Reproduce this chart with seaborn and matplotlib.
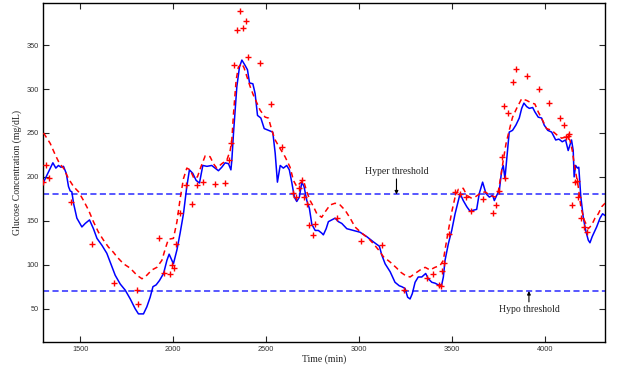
import matplotlib
matplotlib.use('Agg')

import pandas as pd
import matplotlib.pyplot as plt
import seaborn as sns

sns.set_style("ticks")
plt.rcParams['font.family'] = ['Liberation Serif', 'DejaVu Serif']

# ── data: (time in min, glucose in mg/dL) ──
cgm_points = [
    (1303, 194), (1353, 216), (1369, 210), (1383, 213), (1396, 211), (1410, 212), (1425, 204), (1437, 189),
    (1446, 184), (1455, 183), (1464, 170), (1482, 153), (1509, 143), (1527, 147), (1550, 151), (1571, 141),
    (1590, 130), (1617, 122), (1643, 113), (1661, 103), (1688, 88), (1715, 78), (1742, 71), (1769, 61),
    (1795, 50), (1813, 44), (1840, 44), (1858, 52), (1876, 63), (1891, 75), (1908, 77), (1926, 82),
    (1948, 90), (1966, 105), (1978, 112), (1993, 105), (2001, 101), (2020, 117), (2037, 136), (2055, 158),
    (2073, 189), (2087, 208), (2105, 204), (2123, 196), (2141, 193), (2159, 213), (2181, 212), (2207, 213),
    (2225, 210), (2243, 207), (2261, 211), (2279, 216), (2297, 215), (2310, 208), (2315, 219), (2324, 250),
    (2342, 303), (2356, 325), (2369, 333), (2386, 327), (2399, 322), (2410, 307), (2428, 306), (2440, 295),
    (2453, 270), (2471, 267), (2489, 255), (2512, 253), (2535, 251), (2548, 227), (2560, 194), (2575, 213),
    (2592, 210), (2610, 213), (2624, 208), (2637, 194), (2651, 177), (2664, 172), (2678, 177), (2691, 194),
    (2703, 189), (2718, 173), (2732, 164), (2745, 146), (2763, 139), (2780, 139), (2798, 136), (2807, 134),
    (2822, 141), (2834, 149), (2852, 151), (2870, 153), (2888, 149), (2906, 147), (2933, 141), (2968, 139),
    (3004, 137), (3040, 132), (3076, 126), (3108, 121), (3121, 111), (3139, 101), (3166, 92), (3192, 80),
    (3215, 76), (3228, 75), (3246, 73), (3260, 63), (3273, 61), (3285, 67), (3300, 80), (3317, 86),
    (3336, 86), (3357, 90), (3371, 84), (3390, 80), (3407, 79), (3425, 77), (3443, 77), (3452, 86),
    (3461, 105), (3479, 124), (3497, 139), (3515, 158), (3533, 173), (3542, 181), (3559, 173), (3578, 166),
    (3595, 161), (3613, 162), (3631, 163), (3645, 181), (3663, 194), (3681, 181), (3699, 177), (3717, 179),
    (3726, 173), (3739, 179), (3753, 185), (3766, 208), (3774, 213), (3783, 198), (3792, 219), (3806, 251),
    (3824, 253), (3842, 259), (3860, 267), (3873, 278), (3885, 284), (3900, 280), (3914, 278), (3932, 279),
    (3944, 274), (3962, 268), (3980, 267), (3994, 259), (4013, 253), (4034, 251), (4056, 242), (4073, 243),
    (4091, 240), (4109, 242), (4123, 230), (4141, 242), (4150, 230), (4155, 200), (4163, 213), (4173, 210),
    (4180, 211), (4191, 177), (4204, 154), (4217, 139), (4231, 128), (4240, 125), (4252, 132), (4276, 143),
    (4294, 153), (4308, 158), (4321, 156),
]

estimate_points = [
    (1303, 250), (1339, 238), (1366, 225), (1389, 215), (1410, 210), (1437, 198), (1464, 189), (1491, 183),
    (1518, 173), (1545, 162), (1571, 149), (1598, 137), (1625, 128), (1652, 120), (1679, 114), (1697, 109),
    (1733, 101), (1769, 96), (1805, 88), (1832, 84), (1858, 88), (1885, 94), (1912, 97), (1939, 105),
    (1957, 118), (1974, 129), (2001, 130), (2020, 149), (2037, 175), (2055, 198), (2073, 210), (2091, 208),
    (2112, 198), (2130, 200), (2148, 211), (2172, 224), (2198, 223), (2216, 215), (2234, 210), (2261, 215),
    (2288, 219), (2306, 230), (2315, 242), (2324, 272), (2338, 310), (2350, 325), (2369, 329), (2381, 324),
    (2396, 314), (2413, 303), (2431, 293), (2467, 276), (2494, 268), (2512, 267), (2530, 253), (2548, 242),
    (2575, 232), (2601, 223), (2628, 211), (2646, 196), (2664, 189), (2682, 193), (2700, 196), (2718, 183),
    (2736, 173), (2754, 166), (2772, 158), (2798, 154), (2816, 160), (2843, 168), (2870, 170), (2897, 168),
    (2924, 162), (2951, 153), (2977, 143), (3013, 136), (3049, 130), (3076, 124), (3103, 117), (3130, 109),
    (3166, 103), (3202, 96), (3219, 92), (3246, 88), (3273, 86), (3300, 90), (3327, 94), (3354, 97),
    (3380, 94), (3407, 97), (3434, 99), (3452, 105), (3461, 117), (3479, 139), (3497, 160), (3515, 177),
    (3533, 186), (3559, 187), (3578, 179), (3601, 176), (3622, 177), (3649, 181), (3676, 183), (3703, 179),
    (3730, 177), (3747, 183), (3762, 202), (3774, 219), (3789, 238), (3806, 253), (3824, 268), (3846, 278),
    (3873, 289), (3900, 287), (3927, 284), (3944, 283), (3962, 274), (3984, 265), (4007, 255), (4034, 253),
    (4061, 248), (4088, 244), (4114, 246), (4132, 242), (4145, 230), (4155, 215), (4168, 200), (4177, 189),
    (4191, 166), (4209, 151), (4231, 141), (4249, 145), (4267, 153), (4285, 158), (4303, 166), (4321, 170),
]

reference_points = [
    (1300, 194), (1316, 214), (1330, 199), (1452, 171), (1566, 124), (1683, 79), (1805, 71), (1808, 55),
    (1924, 130), (1953, 91), (1985, 89), (1994, 100), (2003, 96), (2014, 124), (2039, 159), (2069, 191),
    (2103, 169), (2130, 191), (2159, 194), (2222, 192), (2279, 193), (2300, 219), (2311, 239), (2329, 327),
    (2345, 367), (2361, 389), (2374, 370), (2392, 378), (2404, 337), (2465, 330), (2525, 283), (2584, 234),
    (2646, 182), (2659, 177), (2676, 187), (2691, 196), (2703, 177), (2718, 169), (2732, 145), (2749, 134),
    (2763, 146), (2882, 153), (3010, 127), (3121, 122), (3241, 71), (3363, 85), (3395, 89), (3427, 77),
    (3437, 76), (3447, 93), (3456, 102), (3484, 135), (3515, 183), (3542, 181), (3574, 177), (3601, 161),
    (3663, 175), (3720, 159), (3735, 168), (3749, 184), (3766, 223), (3783, 199), (3780, 281), (3798, 273),
    (3828, 308), (3842, 323), (3903, 315), (3968, 300), (4021, 284), (4079, 267), (4098, 259), (4109, 245),
    (4120, 246), (4128, 249), (4141, 168), (4159, 194), (4168, 195), (4177, 177), (4191, 153), (4209, 143),
    (4222, 137),
]

hyper_threshold = 180
hypo_threshold = 70
x_ticks = [1500, 2000, 2500, 3000, 3500, 4000]
y_ticks = [50, 100, 150, 200, 250, 300, 350]

cgm = pd.DataFrame(cgm_points, columns=["time", "glucose"])
est = pd.DataFrame(estimate_points, columns=["time", "glucose"])
ref = pd.DataFrame(reference_points, columns=["time", "glucose"])

# ── figure ──
fig = plt.figure(figsize=(6.18, 3.69), dpi=100)
ax = fig.add_axes([0.0696, 0.0732, 0.9094, 0.9187])

ax.axhline(hyper_threshold, color='#2a2aff', lw=1.1, ls=(0, (4, 2.2)), zorder=1)
ax.axhline(hypo_threshold, color='#2a2aff', lw=1.1, ls=(0, (4, 2.2)), zorder=1)

sns.lineplot(data=cgm, x="time", y="glucose", ax=ax, color='#0000ff', lw=1.1,
             sort=False, estimator=None, zorder=3)
sns.lineplot(data=est, x="time", y="glucose", ax=ax, color='#ff0000', lw=1.1,
             sort=False, estimator=None, zorder=4, dashes=False, linestyle=(0, (3.5, 2.5)))
sns.scatterplot(data=ref, x="time", y="glucose", ax=ax, marker='+', color='#ff0000',
                s=20, linewidth=1.0, zorder=5)

ax.set_xlim(1300, 4321)
ax.set_ylim(12, 398)
ax.set_xticks(x_ticks)
ax.set_yticks(y_ticks)
ax.tick_params(direction='in', top=True, right=True, length=4, width=0.8,
               labelsize=5.3, labelcolor='#333333', pad=3)
for lbl in ax.get_xticklabels() + ax.get_yticklabels():
    lbl.set_fontfamily(['Liberation Sans', 'DejaVu Sans'])
for sp in ax.spines.values():
    sp.set_linewidth(1.0)
    sp.set_color('black')

ax.set_xlabel("Time (min)", fontsize=7, labelpad=1, color='#222222')
ax.set_ylabel("Glucose Concentration (mg/dL)", fontsize=7, labelpad=3, color='#222222')

ax.annotate("Hyper threshold", xy=(3200, hyper_threshold), xytext=(3200, 206.5),
            ha='center', va='center', fontsize=7, color='#222222',
            arrowprops=dict(arrowstyle='-|>', color='black', lw=0.8, mutation_scale=5,
                            shrinkA=0, shrinkB=0))
ax.annotate("Hypo threshold", xy=(3912, hypo_threshold), xytext=(3912, 48.8),
            ha='center', va='center', fontsize=7, color='#222222',
            arrowprops=dict(arrowstyle='-|>', color='black', lw=0.8, mutation_scale=5,
                            shrinkA=0, shrinkB=0))

plt.savefig("out.png", dpi=100)
plt.close()
